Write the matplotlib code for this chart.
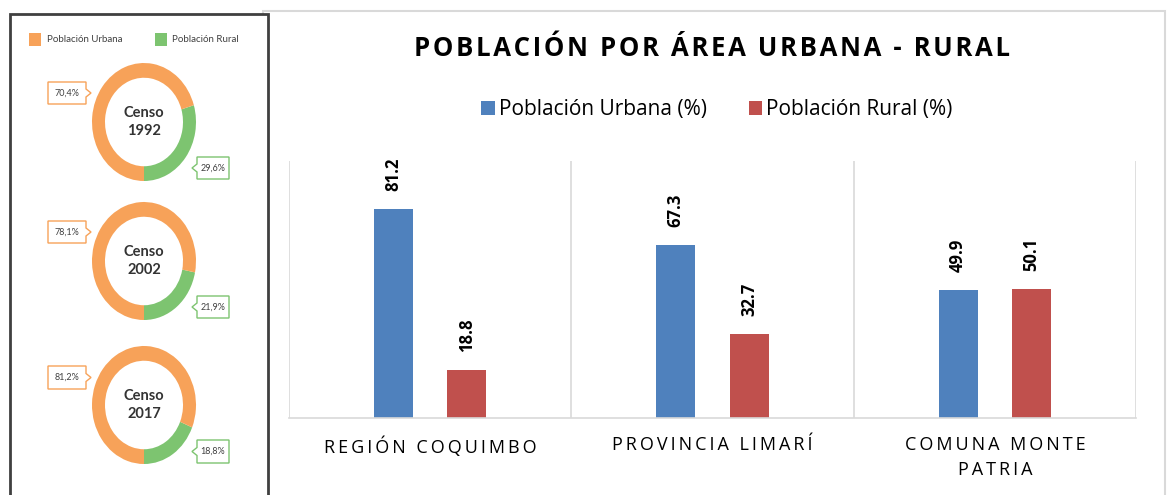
import matplotlib
matplotlib.use('Agg')
import matplotlib.pyplot as plt
from matplotlib.patches import Rectangle, Polygon
import numpy as np

# datos
censos = ['1992', '2002', '2017']
urbana_censo = [70.4, 78.1, 81.2]
rural_censo = [29.6, 21.9, 18.8]

territorios = ['REGIÓN COQUIMBO', 'PROVINCIA LIMARÍ', 'COMUNA MONTE\nPATRIA']
urbana_pct = [81.2, 67.3, 49.9]
rural_pct = [18.8, 32.7, 50.1]

NARANJA = '#F7A259'
VERDE = '#7DC470'
AZUL = '#4F81BD'
ROJO = '#C0504D'
GRIS_TXT = '#404040'

W, H = 1167, 495
fig = plt.figure(figsize=(W / 100, H / 100), dpi=100)


def px_axes(x0, y0, x1, y1, **kw):
    """Ejes ubicados en coordenadas de pixel (origen arriba a la izquierda)."""
    return fig.add_axes([x0 / W, 1 - y1 / H, (x1 - x0) / W, (y1 - y0) / H], **kw)


def espaciado(s, sep='\u2009'):
    return '\n'.join(sep.join(linea) for linea in s.split('\n'))


# fondo con los dos paneles
bg = fig.add_axes([0, 0, 1, 1], zorder=0)
bg.set_xlim(0, W)
bg.set_ylim(H, 0)
bg.axis('off')
bg.add_patch(Rectangle((263, 11), 902, 520, fc='white', ec='#D9D9D9', lw=1.5))
bg.add_patch(Rectangle((10, 14), 258, 520, fc='white', ec='#404040', lw=2))

# ---- panel izquierdo: donas por censo ----
centros_y = [122, 261, 405]
for cy, c, u, r in zip(centros_y, censos, urbana_censo, rural_censo):
    ax = px_axes(92, cy - 59, 196, cy + 59, zorder=2)
    ax.pie([r, u], colors=[VERDE, NARANJA], startangle=270, counterclock=True,
           radius=1.0, wedgeprops=dict(width=0.25, edgecolor='none'))
    ax.set_xlim(-1.0, 1.0)
    ax.set_ylim(-1.0, 1.0)
    ax.set_aspect('auto')
    ax.text(0, 0, f'Censo\n{c}', ha='center', va='center', fontsize=10.5,
            fontweight='bold', color='#333333', family='Lato', linespacing=1.4)

ov = fig.add_axes([0, 0, 1, 1], zorder=5)
ov.set_xlim(0, W)
ov.set_ylim(H, 0)
ov.axis('off')
ov.patch.set_alpha(0)

# leyenda izquierda
ov.add_patch(Rectangle((29, 33), 12, 13, fc=NARANJA, ec='none'))
ov.text(47, 40, 'Población Urbana', fontsize=7, color=GRIS_TXT, va='center', family='Lato')
ov.add_patch(Rectangle((155, 33), 12, 13, fc=VERDE, ec='none'))
ov.text(172, 40, 'Población Rural', fontsize=7, color=GRIS_TXT, va='center', family='Lato')


def fmt(v):
    return f'{v:.1f}%'.replace('.', ',')


cajas_urb = [(82, 104), (221, 243), (366, 389)]
cajas_rur = [(157, 179), (296, 318), (440, 463)]
for (y0, y1), v in zip(cajas_urb, urbana_censo):
    x0, x1, ym = 48, 86, (y0 + y1) / 2
    pts = [(x0, y0), (x1, y0), (x1, ym - 4), (x1 + 5, ym), (x1, ym + 4), (x1, y1), (x0, y1)]
    ov.add_patch(Polygon(pts, closed=True, fc='white', ec=NARANJA, lw=1))
    ov.text((x0 + x1) / 2, ym, fmt(v), ha='center', va='center', fontsize=6.5,
            color=GRIS_TXT, family='Lato')
for (y0, y1), v in zip(cajas_rur, rural_censo):
    x0, x1, ym = 197, 229, (y0 + y1) / 2
    pts = [(x0, y0), (x1, y0), (x1, y1), (x0, y1), (x0, ym + 4), (x0 - 5, ym), (x0, ym - 4)]
    ov.add_patch(Polygon(pts, closed=True, fc='white', ec=VERDE, lw=1))
    ov.text((x0 + x1) / 2, ym, fmt(v), ha='center', va='center', fontsize=6.5,
            color=GRIS_TXT, family='Lato')

# ---- panel derecho: barras ----
ax = px_axes(289, 161, 1136, 418, zorder=2)
x = np.arange(len(territorios))
ancho = 0.138
desp = 0.13
b1 = ax.bar(x - desp, urbana_pct, ancho, color=AZUL, label='Población Urbana (%)')
b2 = ax.bar(x + desp, rural_pct, ancho, color=ROJO, label='Población Rural (%)')
for barras in (b1, b2):
    ax.bar_label(barras, fmt='%.1f', rotation=90, padding=13, fontsize=12,
                 fontweight='bold', family='Open Sans')

ax.set_xlim(-0.5, len(territorios) - 0.5)
ax.set_ylim(0, 100)
ax.set_yticks([])
ax.set_xticks(x)
ax.set_xticklabels([espaciado(t) for t in territorios], fontsize=13,
                   family='Open Sans', linespacing=1.5)
ax.tick_params(axis='x', length=0, pad=13)
ax.set_xticks(np.arange(len(territorios) + 1) - 0.5, minor=True)
ax.tick_params(axis='x', which='minor', length=0)
ax.grid(axis='x', which='minor', color='#D9D9D9', lw=1.2)
for s in ['top', 'left', 'right']:
    ax.spines[s].set_visible(False)
ax.spines['bottom'].set_color('#D9D9D9')
ax.spines['bottom'].set_linewidth(1.2)

ax.legend(loc='center', ncol=2, frameon=False, handlelength=0.65, handleheight=0.65,
          handletextpad=0.2, columnspacing=2.0, prop={'family': 'Open Sans', 'size': 15})
leg = ax.get_legend()
leg.set_bbox_to_anchor((717 / W, 1 - 110 / H), transform=fig.transFigure)

fig.text(712.5 / W, 1 - 49 / H, espaciado('POBLACIÓN POR ÁREA URBANA - RURAL', '\u200a'),
         ha='center', va='center', fontsize=18.5, fontweight='bold', family='Open Sans',
         zorder=6)

fig.savefig('out.png', dpi=100)
